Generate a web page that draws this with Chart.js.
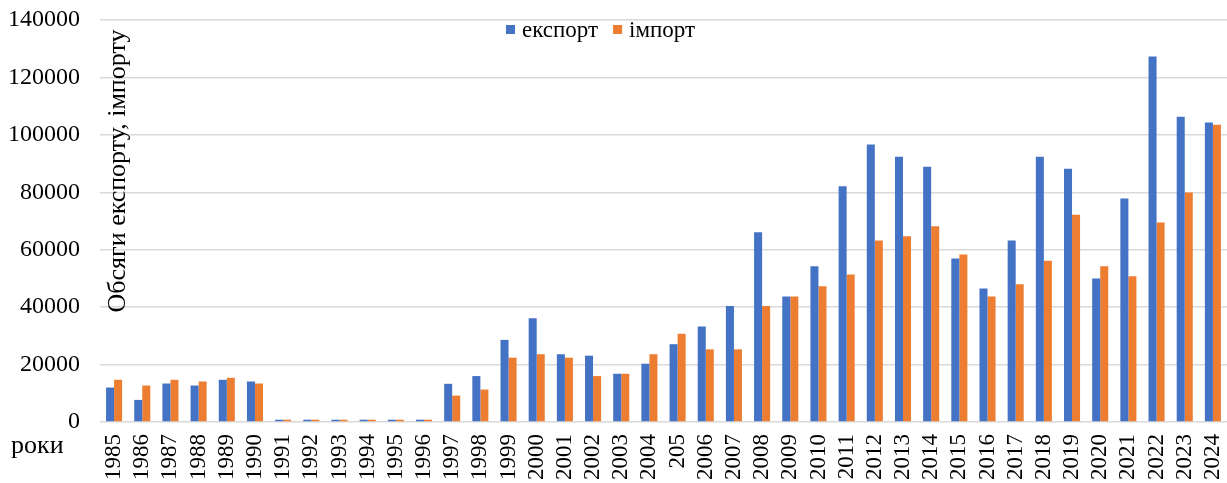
<!DOCTYPE html>
<html>
<head>
<meta charset="utf-8">
<script src="https://cdn.jsdelivr.net/npm/chart.js@4"></script>
<style>
  html, body { margin: 0; padding: 0; background: #fff; }
  #wrap { width: 1227px; height: 483px; }
</style>
</head>
<body>
<div id="wrap"><canvas id="myChart"></canvas></div>
<script>
// Data
const years = ['1985','1986','1987','1988','1989','1990','1991','1992','1993','1994',
  '1995','1996','1997','1998','1999','2000','2001','2002','2003','2004',
  '205','2006','2007','2008','2009','2010','2011','2012','2013','2014',
  '2015','2016','2017','2018','2019','2020','2021','2022','2023','2024'];

const exportVals = [12000, 7700, 13400, 12700, 14700, 14100, 800, 800, 800, 800,
  800, 800, 13300, 16000, 28600, 36100, 23600, 23100, 16800, 20300,
  27100, 33300, 40400, 66100, 43700, 54200, 82100, 96600, 92400, 88900,
  56900, 46500, 63200, 92400, 88200, 50000, 77800, 127300, 106300, 104300];

const importVals = [14700, 12700, 14700, 14100, 15400, 13400, 800, 800, 800, 800,
  800, 800, 9200, 11300, 22400, 23600, 22400, 16000, 16800, 23600,
  30700, 25300, 25300, 40400, 43700, 47300, 51400, 63200, 64700, 68200,
  58300, 43700, 48000, 56200, 72200, 54200, 50800, 69500, 79900, 103500];

const yTicks = [0, 20000, 40000, 60000, 80000, 100000, 120000, 140000];

const serif = '"Liberation Serif", "Times New Roman", serif';

// extra texts: axis title, "роки", legend
const textPlugin = {
    id: 'texts',
    afterDraw(chart) {
        const c = chart.ctx;
        c.save();
        c.fillStyle = '#000';

        // y title inside plot
        c.font = '26px ' + serif;
        c.save();
        c.translate(118, 171);
        c.rotate(-Math.PI / 2);
        c.textAlign = 'center';
        c.textBaseline = 'middle';
        c.fillText('Обсяги експорту, імпорту', 0, 0);
        c.restore();

        // x title
        c.textAlign = 'left';
        c.textBaseline = 'middle';
        c.fillText('роки', 11, 446);

        // legend
        c.font = '23px ' + serif;
        const ds = chart.data.datasets;
        let x = 506;
        ds.forEach((d) => {
            c.fillStyle = d.backgroundColor;
            c.fillRect(x, 25, 9, 9);
            c.fillStyle = '#000';
            c.fillText(d.label, x + 16, 31);
            x += 16 + c.measureText(d.label).width + 15;
        });
        c.restore();
    }
};

const ctx = document.getElementById('myChart');

const config = {
    type: 'bar',
    data: {
        labels: years,
        datasets: [{
            label: 'експорт',
            data: exportVals,
            backgroundColor: '#4472C4',
            categoryPercentage: 0.57,
            barPercentage: 1.0,
        }, {
            label: 'імпорт',
            data: importVals,
            backgroundColor: '#ED7D31',
            categoryPercentage: 0.57,
            barPercentage: 1.0,
        }]
    },
    options: {
        responsive: true,
        maintainAspectRatio: false,
        animation: false,
        layout: { padding: { top: 20, right: 0, left: 0, bottom: 0 } },
        plugins: {
            legend: { display: false },
            tooltip: { enabled: false }
        },
        scales: {
            x: {
                grid: { display: false },
                border: { display: false },
                ticks: {
                    color: '#000',
                    font: { family: serif, size: 23 },
                    maxRotation: 90,
                    minRotation: 90,
                    autoSkip: false,
                    padding: 4
                },
                afterFit: (scale) => {
                    scale.height = 61;
                    scale.paddingLeft = 0;
                    scale.paddingRight = 0;
                }
            },
            y: {
                min: 0,
                max: 140000,
                afterBuildTicks: (scale) => {
                    scale.ticks = yTicks.map(v => ({ value: v }));
                },
                grid: {
                    color: '#d9d9d9',
                    lineWidth: 1.5,
                    drawTicks: false
                },
                border: { display: false },
                ticks: {
                    color: '#000',
                    font: { family: serif, size: 24 },
                    padding: 20,
                    callback: (v) => String(v)
                },
                afterFit: (scale) => {
                    scale.width = 100;
                    scale.paddingTop = 0;
                    scale.paddingBottom = 0;
                }
            }
        }
    },
    plugins: [textPlugin]
};

const barchart = new Chart(ctx, config);
</script>
</body>
</html>
